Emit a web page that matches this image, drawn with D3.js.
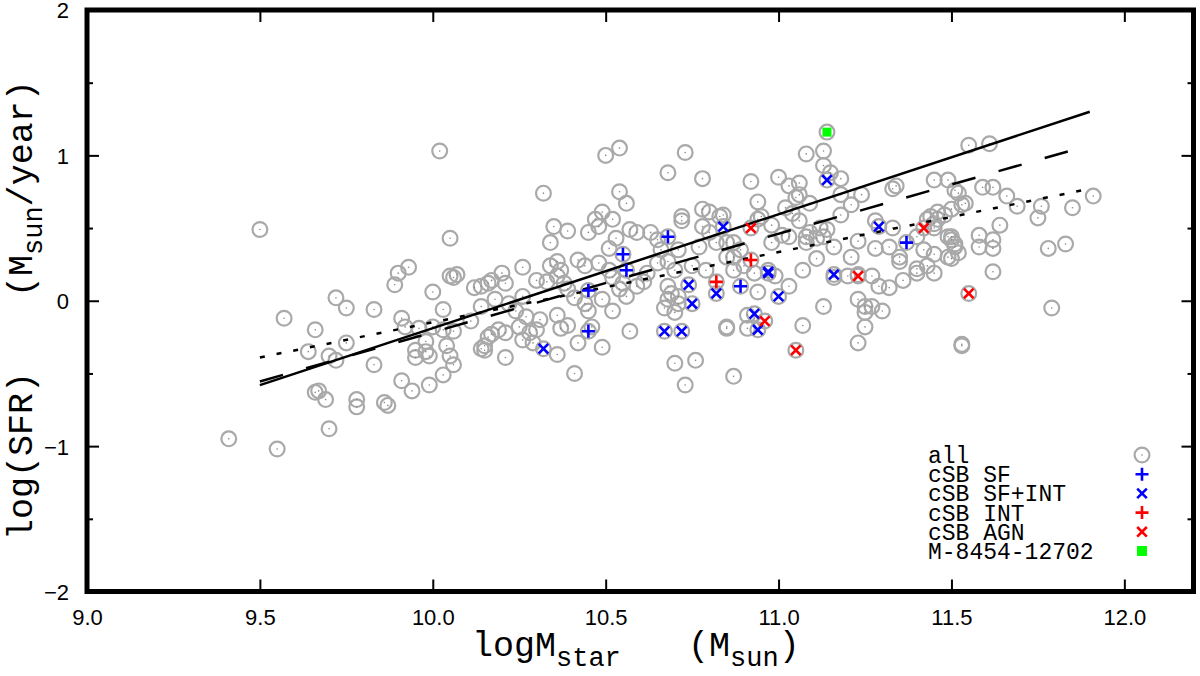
<!DOCTYPE html>
<html><head><meta charset="utf-8">
<script src="https://cdn.jsdelivr.net/npm/d3@7"></script>
<style>body{margin:0;background:#fff}</style>
</head><body>
<svg id="c" width="1200" height="676"></svg>
<script>
// ---- data ----
const xTicks=[9.0,9.5,10.0,10.5,11.0,11.5,12.0];
const yTicks=[-2,-1,0,1,2];
const yMinorTicks=[-1.5,-0.5,0.5,1.5];
const legendLabels=["all","cSB SF","cSB SF+INT","cSB INT","cSB AGN","M-8454-12702"];

const allPts=[
[9.41,-0.95],[9.55,-1.02],[9.50,0.49],[9.57,-0.12],[9.66,-0.20],[9.64,-0.35],[9.75,-0.29],[9.70,-0.38],[9.72,-0.41],[9.83,-0.44],
[9.72,0.02],[9.75,-0.05],[9.83,-0.06],[9.66,-0.63],[9.67,-0.62],[9.69,-0.68],[9.78,-0.68],[9.78,-0.73],[9.86,-0.70],[9.87,-0.72],[9.70,-0.88],
[10.02,1.03],[10.05,0.43],[9.90,0.19],[9.93,0.23],[9.89,0.11],[10.05,0.17],[10.07,0.18],[10.06,0.16],[10.12,0.09],[10.16,0.12],[10.00,0.06],[10.03,-0.06],[10.14,-0.04],
[9.91,-0.12],[9.92,-0.18],[9.96,-0.19],[10.00,-0.18],[10.03,-0.20],[10.06,-0.21],[10.11,-0.14],[9.98,-0.28],[9.95,-0.34],[9.98,-0.35],[9.95,-0.39],[9.99,-0.38],
[10.04,-0.31],[10.05,-0.38],[10.06,-0.44],[10.03,-0.51],[10.14,-0.33],[10.15,-0.34],[9.91,-0.55],[9.94,-0.62],[9.99,-0.58],
[10.50,1.00],[10.54,1.05],[10.73,1.02],[10.68,0.88],[10.78,0.84],[10.32,0.74],[10.54,0.75],[10.56,0.67],[10.35,0.51],[10.39,0.48],[10.34,0.40],[10.45,0.47],
[10.47,0.56],[10.49,0.61],[10.52,0.56],[10.48,0.51],[10.57,0.49],[10.59,0.47],[10.63,0.47],[10.65,0.42],[10.53,0.43],[10.51,0.36],[10.72,0.58],[10.72,0.55],
[10.78,0.63],[10.80,0.61],[10.83,0.58],[10.78,0.51],[10.80,0.47],[10.82,0.40],[10.77,0.37],[10.71,0.35],[10.66,0.35],[10.68,0.27],[10.70,0.21],[10.75,0.24],[10.79,0.21],[10.85,0.30],
[10.26,0.23],[10.20,0.19],[10.17,0.14],[10.21,0.12],[10.14,0.10],[10.30,0.14],[10.34,0.24],[10.36,0.27],[10.37,0.21],[10.36,0.17],[10.33,0.13],[10.38,0.12],
[10.42,0.28],[10.44,0.24],[10.48,0.26],[10.51,0.21],[10.52,0.16],[10.55,0.12],[10.54,0.08],[10.56,0.03],[10.59,0.10],[10.61,0.13],[10.62,0.19],[10.65,0.26],
[10.68,0.10],[10.69,0.05],[10.68,0.01],[10.71,-0.02],[10.67,-0.05],[10.70,-0.08],[10.71,0.03],
[10.39,0.08],[10.41,0.02],[10.44,-0.02],[10.45,-0.07],[10.49,0.01],[10.52,-0.07],[10.36,-0.10],[10.39,-0.17],[10.37,-0.19],[10.31,-0.13],[10.27,-0.11],[10.24,-0.07],
[10.25,-0.18],[10.28,-0.22],[10.30,-0.20],[10.26,-0.27],[10.29,-0.29],[10.19,-0.20],[10.21,-0.22],[10.17,-0.23],[10.16,-0.25],[10.15,-0.31],[10.18,0.01],[10.22,-0.02],[10.26,0.03],
[10.21,-0.39],[10.36,-0.37],[10.42,-0.29],[10.49,-0.32],[10.41,-0.50],[10.57,-0.21],[10.70,-0.43],[10.76,-0.41],[10.73,-0.58],[10.85,-0.19],[10.87,-0.52],[10.46,-0.18],
[10.68,0.44],[10.55,0.32],[10.56,0.21],[10.45,0.07],[10.45,-0.21],[10.32,-0.33],[10.84,0.51],[10.74,0.11],[10.82,0.05],[10.75,-0.02],[10.67,-0.21],[10.72,-0.21],[10.82,0.13],
[11.14,1.16],[11.08,1.01],[11.13,1.03],[11.13,0.93],[11.15,0.88],[11.18,0.84],[10.92,0.82],[11.00,0.85],[11.03,0.79],[11.06,0.81],[11.06,0.73],[11.09,0.67],[11.05,0.71],
[10.94,0.68],[10.95,0.58],[10.94,0.56],[10.84,0.59],[11.02,0.64],[11.04,0.60],[11.06,0.55],[10.98,0.52],[11.01,0.45],[10.98,0.40],[11.03,0.44],[11.08,0.44],[11.09,0.47],
[11.12,0.50],[11.14,0.49],[11.11,0.43],[11.13,0.44],[11.08,0.40],[11.16,0.37],[11.18,0.59],[11.21,0.66],[11.24,0.73],[11.18,0.73],[11.11,0.29],[11.07,0.21],[11.03,0.10],[10.94,0.06],
[10.85,0.40],[10.87,0.40],[10.89,0.35],[10.87,0.30],[10.90,0.24],[10.87,0.21],[10.93,0.19],[10.97,0.21],[10.99,0.17],[10.91,-0.10],[10.91,-0.19],[10.85,-0.18],[11.07,-0.17],[11.13,-0.04],
[11.21,0.30],[11.23,0.41],[11.28,0.55],[11.28,0.36],[11.32,0.37],[11.34,0.79],[11.33,0.77],[11.33,0.50],[11.35,0.30],[11.35,0.27],[11.16,0.16],[11.20,0.17],[11.23,0.18],[11.27,0.17],
[11.29,0.10],[11.32,0.09],[11.36,0.14],[11.40,0.22],[11.40,0.19],[11.45,0.19],[11.43,0.24],[11.23,0.01],[11.25,-0.04],[11.27,-0.04],[11.30,-0.07],[11.25,-0.08],[11.25,-0.18],[11.23,-0.29],
[11.53,-0.30],[11.45,0.83],[11.49,0.83],[11.51,0.76],[11.54,0.67],[11.44,0.58],[11.46,0.61],[11.43,0.56],[11.45,0.53],[11.46,0.56],[11.48,0.59],[11.45,0.50],[11.40,0.44],[11.49,0.44],
[11.50,0.42],[11.51,0.39],[11.42,0.35],[11.45,0.32],[11.49,0.30],[11.52,0.33],
[11.14,0.83],[10.92,0.50],[10.92,0.28],[10.97,0.19],[10.89,0.10],[11.00,0.03],[10.93,-0.09],[10.94,-0.20],[10.96,-0.14],[11.05,-0.34],[11.16,0.18],[11.23,0.17],[11.29,0.51],[11.37,0.40],[11.42,0.50],[11.55,0.05],
[11.55,1.07],[11.61,1.08],[11.52,0.74],[11.53,0.66],[11.59,0.78],[11.62,0.78],[11.66,0.72],[11.69,0.65],[11.76,0.65],[11.75,0.57],[11.85,0.64],[11.91,0.72],[11.50,0.63],
[11.64,0.52],[11.58,0.45],[11.62,0.42],[11.58,0.37],[11.62,0.36],[11.50,0.44],[11.51,0.37],[11.50,0.29],[11.62,0.20],[11.78,0.36],[11.83,0.39],[11.79,-0.05],[11.53,-0.31]
];
const sfPts=[[10.68,0.44],[10.55,0.32],[10.56,0.21],[10.45,0.07],[10.45,-0.21],[10.89,0.10],[11.37,0.40]];
const sfIntPts=[[10.32,-0.33],[10.84,0.51],[10.74,0.11],[10.82,0.05],[10.75,-0.02],[10.67,-0.21],[10.72,-0.21],[11.14,0.83],[10.97,0.19],[10.97,0.20],[11.00,0.03],[10.93,-0.09],[10.94,-0.20],[11.16,0.18],[11.29,0.51]];
const intPts=[[10.82,0.13],[10.92,0.28]];
const agnPts=[[10.92,0.50],[10.96,-0.14],[11.05,-0.34],[11.23,0.17],[11.42,0.50],[11.55,0.05]];
const specialPts=[[11.14,1.16]];
const fitSolid=[[9.5,-0.58],[11.9,1.30]];
const fitDashed=[[9.5,-0.555],[11.9,1.07]];
const fitDotted=[[9.5,-0.39],[11.9,0.77]];

// ---- drawing ----
const svg=d3.select("#c");
const x=d3.scaleLinear().domain([9,12.2]).range([87,1193.5]);
const y=d3.scaleLinear().domain([-2,2]).range([591.5,10]);
const GRAY="#a9a9a9";
const tickFont="'Liberation Sans',Arial,sans-serif";
const monoFont="'Liberation Mono','Courier New',monospace";

function styleAxis(g){
  g.select(".domain").remove();
  g.selectAll(".tick line").attr("stroke","#000").attr("stroke-width",2);
  g.selectAll(".tick text").attr("font-family",tickFont).attr("font-size",22).attr("fill","#000");
}
svg.append("g").attr("transform",`translate(0,${y(-2)})`)
  .call(d3.axisBottom(x).tickValues(xTicks).tickFormat(d3.format(".1f")).tickSizeInner(-12).tickSizeOuter(0).tickPadding(18))
  .call(styleAxis);
svg.append("g").attr("transform",`translate(0,${y(2)})`)
  .call(d3.axisTop(x).tickValues(xTicks).tickFormat("").tickSizeInner(-12).tickSizeOuter(0)).call(styleAxis);
svg.append("g").attr("transform",`translate(${x(9)},0)`)
  .call(d3.axisLeft(y).tickValues(yTicks).tickFormat(d3.format("d")).tickSizeInner(-12).tickSizeOuter(0).tickPadding(18))
  .call(styleAxis)
  .call(g=>g.selectAll(".tick text").attr("dy","0.36em"));
svg.append("g").attr("transform",`translate(${x(9)},0)`)
  .call(d3.axisLeft(y).tickValues(yMinorTicks).tickFormat("").tickSizeInner(-6).tickSizeOuter(0)).call(styleAxis);
svg.append("g").attr("transform",`translate(${x(12.2)},0)`)
  .call(d3.axisRight(y).tickValues(yTicks).tickFormat("").tickSizeInner(-12).tickSizeOuter(0)).call(styleAxis);
svg.append("g").attr("transform",`translate(${x(12.2)},0)`)
  .call(d3.axisRight(y).tickValues(yMinorTicks).tickFormat("").tickSizeInner(-6).tickSizeOuter(0)).call(styleAxis);

// points: all
const gAll=svg.append("g");
gAll.selectAll("circle.ring").data(allPts).join("circle").attr("class","ring")
  .attr("cx",d=>x(d[0])).attr("cy",d=>y(d[1])).attr("r",7.4)
  .attr("fill","none").attr("stroke",GRAY).attr("stroke-width",2.2);
gAll.selectAll("circle.dot").data(allPts).join("circle").attr("class","dot")
  .attr("cx",d=>x(d[0])).attr("cy",d=>y(d[1])).attr("r",0.8).attr("fill","#888");

// fit lines
const line=d3.line().x(d=>x(d[0])).y(d=>y(d[1]));
svg.append("path").datum(fitSolid).attr("d",line).attr("stroke","#000").attr("stroke-width",2.5).attr("fill","none");
svg.append("path").datum(fitDashed).attr("d",line).attr("stroke","#000").attr("stroke-width",2.5).attr("fill","none").attr("stroke-dasharray","24,24");
svg.append("path").datum(fitDotted).attr("d",line).attr("stroke","#000").attr("stroke-width",2.5).attr("fill","none").attr("stroke-dasharray","5,12");

// markers
const plusPath=s=>`M${-s},0H${s}M0,${-s}V${s}`;
const crossPath=s=>`M${-s},${-s}L${s},${s}M${-s},${s}L${s},${-s}`;
function drawMarks(data,path,color){
  svg.append("g").selectAll("path").data(data).join("path")
    .attr("transform",d=>`translate(${x(d[0])},${y(d[1])})`)
    .attr("d",path).attr("stroke",color).attr("stroke-width",2.6).attr("fill","none");
}
drawMarks(sfPts,plusPath(6.5),"#0000ff");
drawMarks(sfIntPts,crossPath(4.8),"#0000ff");
drawMarks(intPts,plusPath(6.5),"#ff0000");
drawMarks(agnPts,crossPath(4.8),"#ff0000");
svg.append("g").selectAll("rect").data(specialPts).join("rect")
  .attr("x",d=>x(d[0])-4.5).attr("y",d=>y(d[1])-4.5).attr("width",9).attr("height",9).attr("fill","#00ff00");

// frame
svg.append("rect").attr("x",x(9)).attr("y",y(2)).attr("width",x(12.2)-x(9)).attr("height",y(-2)-y(2))
  .attr("fill","none").attr("stroke","#000").attr("stroke-width",5);

// legend
const lg=svg.append("g");
const legY=i=>463+i*19.2;
lg.selectAll("text").data(legendLabels).join("text")
  .attr("x",928).attr("y",(d,i)=>legY(i)).attr("font-family",monoFont).attr("font-size",23)
  .attr("fill","#000").text(d=>d);
const mx=1142;
lg.append("circle").attr("cx",mx).attr("cy",legY(0)-8).attr("r",7.4).attr("fill","none").attr("stroke",GRAY).attr("stroke-width",2.2);
lg.append("circle").attr("cx",mx).attr("cy",legY(0)-8).attr("r",0.8).attr("fill","#888");
lg.append("path").attr("transform",`translate(${mx},${legY(1)-8})`).attr("d",plusPath(6.5)).attr("stroke","#0000ff").attr("stroke-width",2.6);
lg.append("path").attr("transform",`translate(${mx},${legY(2)-8})`).attr("d",crossPath(4.8)).attr("stroke","#0000ff").attr("stroke-width",2.6);
lg.append("path").attr("transform",`translate(${mx},${legY(3)-8})`).attr("d",plusPath(6.5)).attr("stroke","#ff0000").attr("stroke-width",2.6);
lg.append("path").attr("transform",`translate(${mx},${legY(4)-8})`).attr("d",crossPath(4.8)).attr("stroke","#ff0000").attr("stroke-width",2.6);
lg.append("rect").attr("x",mx-5).attr("y",legY(5)-13).attr("width",10).attr("height",10).attr("fill","#00ff00");

// axis titles
const xt=svg.append("text").attr("x",472).attr("y",656).attr("font-family",monoFont).attr("font-size",35).attr("fill","#000");
xt.append("tspan").text("logM");
xt.append("tspan").attr("dy",10).attr("font-size",27).text("star");
xt.append("tspan").attr("x",688).attr("dy",-10).text("(M");
xt.append("tspan").attr("dy",10).attr("font-size",27).text("sun");
xt.append("tspan").attr("dy",-10).text(")");

const yt=svg.append("text").attr("transform","translate(32,540) rotate(-90)").attr("font-family",monoFont).attr("font-size",35).attr("fill","#000");
yt.append("tspan").attr("x",0).text("log(SFR)");
yt.append("tspan").attr("x",243).text("(M");
yt.append("tspan").attr("dy",10).attr("font-size",27).text("sun");
yt.append("tspan").attr("dy",-10).text("/year)");
</script>
</body></html>
